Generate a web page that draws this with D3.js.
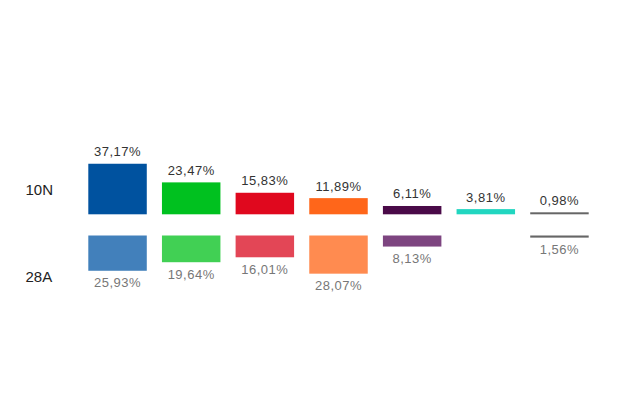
<!DOCTYPE html>
<html>
<head>
<meta charset="utf-8">
<script src="https://cdn.jsdelivr.net/npm/d3@7"></script>
<style>
  body { margin: 0; background: #fff; }
  text { font-family: "Liberation Sans", Arial, Helvetica, sans-serif; }
</style>
</head>
<body>
<div id="chart-container"></div>
<script>
// Two-row comparison of vote share per party: 10N above, 28A below
const parties = ["PP", "Vox", "PSOE", "Cs", "UP", "MP", "Otros"];
const votes10N = [37.17, 23.47, 15.83, 11.89, 6.11, 3.81, 0.98];
const votes28A = [25.93, 19.64, 16.01, 28.07, 8.13, null, 1.56];
const colors10N = ["#00529f", "#00c11f", "#e0081e", "#ff661a", "#4a0a48", "#21d6c0", "#666666"];
const colors28A = ["#4280bb", "#41d054", "#e34656", "#ff8b50", "#7d4580", null, "#666666"];
const rowLabels = ["10N", "28A"];

const width = 640, height = 415;
const base10N = 214.3, base28A = 235.5;

const svg = d3.select("#chart-container").append("svg")
    .attr("width", width)
    .attr("height", height);

const x = d3.scaleBand()
    .domain(parties)
    .range([88.3, 588.7])
    .paddingInner(0.206)
    .paddingOuter(0);

const h = d3.scaleLinear()
    .domain([0, 100])
    .range([0, 136]);

const fmt = v => v.toFixed(2).replace(".", ",") + "%";
const barH = v => Math.max(h(v), 2);

const rows10N = parties.map((p, i) => ({ party: p, value: votes10N[i], color: colors10N[i] }))
    .filter(d => d.value != null);
const rows28A = parties.map((p, i) => ({ party: p, value: votes28A[i], color: colors28A[i] }))
    .filter(d => d.value != null);

// 10N bars grow upward
svg.selectAll(".bar10")
    .data(rows10N)
    .enter().append("rect")
    .attr("class", "bar10")
    .attr("x", d => x(d.party))
    .attr("y", d => base10N - barH(d.value))
    .attr("width", x.bandwidth())
    .attr("height", d => barH(d.value))
    .attr("fill", d => d.color);

svg.selectAll(".lab10")
    .data(rows10N)
    .enter().append("text")
    .attr("class", "lab10")
    .attr("x", d => x(d.party) + x.bandwidth() / 2)
    .attr("y", d => base10N - barH(d.value) - 7.5)
    .attr("text-anchor", "middle")
    .style("font-size", "13px")
    .style("letter-spacing", "0.5px")
    .style("fill", "#333")
    .text(d => fmt(d.value));

// 28A bars grow downward
svg.selectAll(".bar28")
    .data(rows28A)
    .enter().append("rect")
    .attr("class", "bar28")
    .attr("x", d => x(d.party))
    .attr("y", base28A)
    .attr("width", x.bandwidth())
    .attr("height", d => barH(d.value))
    .attr("fill", d => d.color);

svg.selectAll(".lab28")
    .data(rows28A)
    .enter().append("text")
    .attr("class", "lab28")
    .attr("x", d => x(d.party) + x.bandwidth() / 2)
    .attr("y", d => base28A + barH(d.value) + 16.5)
    .attr("text-anchor", "middle")
    .style("font-size", "13px")
    .style("letter-spacing", "0.5px")
    .style("fill", "#777")
    .text(d => fmt(d.value));

// Row labels
svg.selectAll(".row-label")
    .data(rowLabels)
    .enter().append("text")
    .attr("class", "row-label")
    .attr("x", 25.5)
    .attr("y", (d, i) => i === 0 ? 195 : 281.7)
    .style("font-size", "15px")
    .style("fill", "#222")
    .text(d => d);
</script>
</body>
</html>
